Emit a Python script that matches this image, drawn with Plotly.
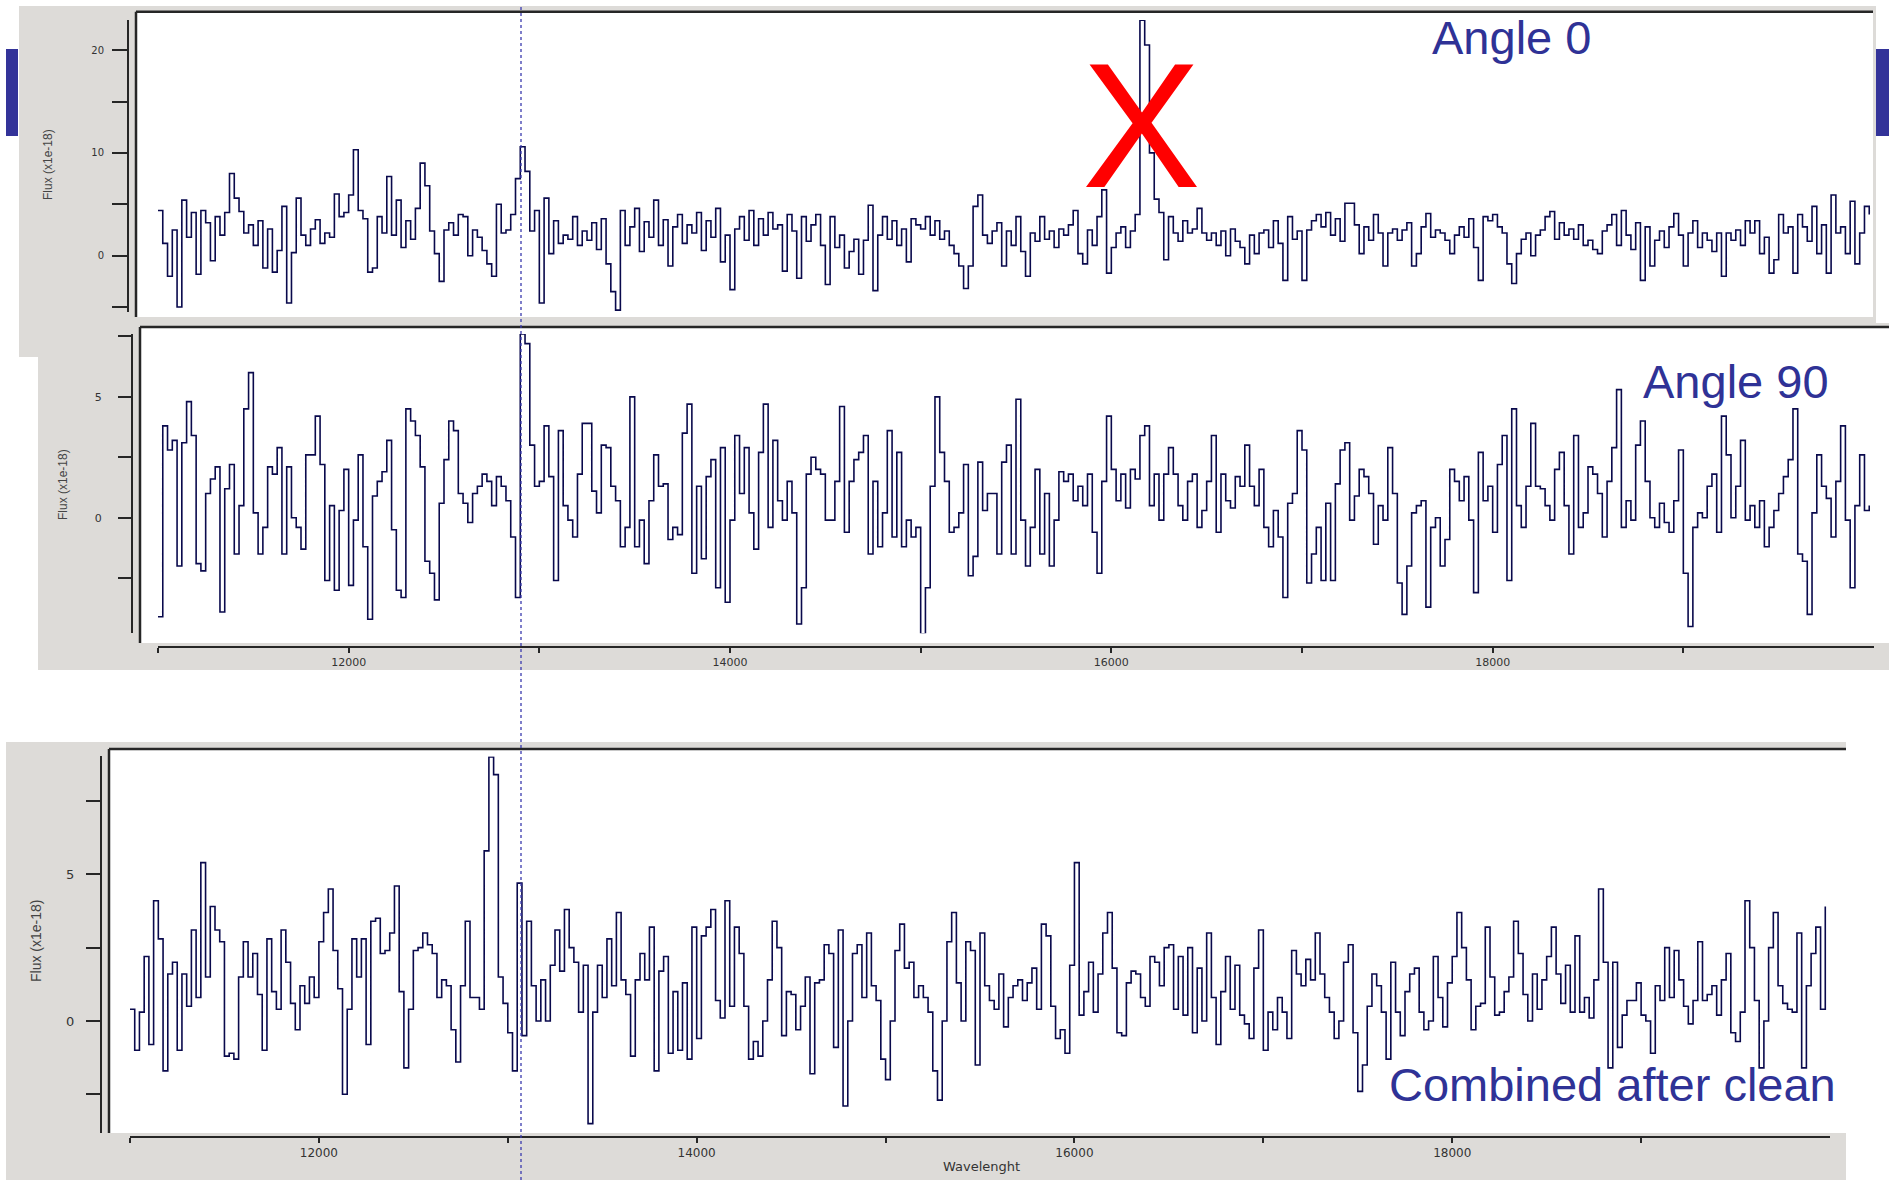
import plotly.graph_objects as go

W, H = 1889, 1180


def fx(x):
    return x / W


def fy(y):
    return 1 - y / H


# ---------------- data ----------------
wave_start = 11000
wave_step = 25

flux_angle0 = [
    4.4, 1.2, -2.0, 2.5, -5.0, 5.4, 1.8, 4.2, -1.8, 4.4,
    3.2, -0.5, 3.8, 2.0, 4.2, 8.0, 5.6, 4.3, 2.2, 3.0,
    1.0, 3.4, -1.2, 2.6, -1.6, 0.5, 4.8, -4.6, 0.3, 5.6,
    2.0, 1.0, 2.6, 3.5, 1.2, 2.2, 1.8, 6.0, 3.8, 4.2,
    5.9, 10.3, 4.4, 3.6, -1.6, -1.2, 3.8, 2.2, 7.7, 2.0,
    5.4, 0.8, 3.4, 1.6, 4.6, 9.0, 6.8, 2.4, 0.2, -2.5,
    2.5, 3.2, 2.0, 4.0, 3.8, 0.0, 2.5, 1.8, 0.5, -0.8,
    -2.0, 5.0, 2.2, 2.5, 4.0, 7.5, 10.6, 8.2, 2.4, 4.4,
    -4.6, 5.6, 0.2, 3.4, 1.2, 2.0, 1.6, 3.8, 1.0, 2.4,
    1.5, 3.2, 0.6, 3.6, -0.8, -3.5, -5.3, 4.4, 1.0, 2.8,
    4.6, 0.4, 3.3, 1.8, 5.4, 1.0, 3.5, -1.0, 2.8, 4.0,
    1.2, 3.0, 2.2, 4.2, 0.5, 3.4, 1.8, 4.6, -0.6, 2.0,
    -3.3, 2.6, 3.8, 1.5, 4.4, 1.0, 3.6, 2.0, 4.2, 2.6,
    3.0, -1.5, 4.0, 2.4, -2.2, 3.8, 1.4, 3.0, 4.0, 1.0,
    -2.8, 3.8, 0.8, 2.0, -1.2, 0.4, 1.6, -1.8, 1.5, 4.9,
    -3.4, 2.0, 3.8, 1.6, 3.4, 1.0, 2.6, -0.6, 3.6, 3.0,
    2.6, 3.8, 2.0, 3.4, 1.6, 2.4, 1.0, 0.2, -1.0, -3.2,
    -1.0, 4.8, 5.9, 2.0, 1.2, 2.4, 3.2, -1.0, 2.4, 1.0,
    3.8, 0.4, -2.0, 2.2, 1.4, 3.8, 1.6, 2.4, 0.8, 2.6,
    2.0, 3.0, 4.4, 0.2, -0.8, 2.5, 1.0, 3.8, 6.4, -1.7,
    0.8, 2.2, 2.8, 0.8, 2.4, 4.0, 22.9, 20.5, 10.0, 5.5,
    4.2, -0.4, 3.8, 2.2, 1.4, 3.4, 2.2, 2.6, 4.6, 2.2,
    1.5, 2.2, 1.0, 2.4, 0.0, 2.6, 1.4, 0.8, -0.8, 2.0,
    0.2, 2.2, 2.5, 0.8, 3.4, 1.2, -2.4, 3.8, 1.6, 2.4,
    -2.4, 2.5, 3.4, 4.0, 2.8, 4.2, 2.0, 3.6, 1.4, 5.1,
    5.1, 3.0, 0.2, 2.8, 1.5, 4.0, 2.2, -1.0, 2.2, 2.6,
    1.5, 2.5, 3.2, -1.0, 0.2, 2.8, 4.1, 1.8, 2.5, 2.2,
    1.5, 0.2, 2.0, 2.8, 1.8, 3.6, 0.8, -2.4, 3.8, 3.4,
    4.0, 2.8, 2.2, -0.8, -2.7, 0.2, 1.6, 2.2, 0.0, 2.0,
    2.5, 3.8, 4.3, 1.6, 3.2, 2.0, 2.6, 1.6, 3.0, 1.0,
    1.5, 0.6, 0.2, 2.4, 3.0, 4.0, 1.0, 4.4, 2.0, 0.6,
    3.2, -2.4, 2.8, -1.0, 1.5, 2.4, 0.8, 2.8, 4.1, 2.0,
    -1.0, 2.2, 3.4, 0.8, 2.2, 1.5, 0.4, 2.2, -2.0, 2.2,
    1.5, 2.5, 1.0, 3.4, 2.2, 3.4, 0.2, 1.8, -1.7, -0.4,
    4.0, 2.2, 2.8, -1.7, 4.0, 2.8, 1.4, 4.8, 0.2, 3.0,
    -1.7, 5.9, 2.2, 2.8, 0.2, 5.3, -0.8, 2.2, 4.8, 4.0,
]

flux_angle90 = [
    -4.1, 3.8, 2.8, 3.2, -2.0, 3.1, 4.8, 3.4, -1.9, -2.2,
    1.0, 1.6, 2.1, -3.9, 1.2, 2.2, -1.5, 0.5, 4.5, 6.0,
    0.2, -1.5, -0.4, 2.1, 1.8, 2.9, -1.5, 2.1, 0.0, -0.4,
    -1.3, 2.6, 2.6, 4.2, 2.2, -2.6, 0.5, -3.0, 0.3, 2.0,
    -2.8, -0.1, 2.6, -1.2, -4.2, 0.9, 1.5, 1.9, 3.2, -0.5,
    -3.0, -3.3, 4.5, 4.0, 3.4, 2.1, -1.8, -2.3, -3.4, 0.6,
    2.4, 4.0, 3.6, 1.0, 0.6, -0.2, 1.0, 1.3, 1.8, 1.5,
    0.5, 1.7, 1.3, 0.7, -0.8, -3.3, 7.6, 7.2, 3.0, 1.3,
    1.5, 3.8, 1.7, -2.6, 3.6, 0.5, -0.1, -0.8, 1.8, 3.9,
    3.9, 1.1, 0.2, 3.0, 2.9, 1.3, 0.7, -1.2, -0.4, 5.0,
    -1.2, -0.1, -1.9, 0.7, 2.6, 1.3, 1.4, -0.9, -0.4, -0.7,
    3.5, 4.7, -2.3, 1.3, -1.7, 1.7, 2.4, -2.9, 2.9, -3.5,
    -0.1, 3.4, 1.0, 2.9, 0.2, -1.3, 2.7, 4.7, -0.4, 3.2,
    0.7, -0.1, 1.5, 0.2, -4.4, -2.9, 1.8, 2.5, 2.0, 1.8,
    -0.1, -0.1, 1.5, 4.6, -0.6, 1.5, 2.4, 2.7, 3.4, -1.5,
    1.5, -1.2, 0.2, 3.6, -0.8, 2.7, -1.2, -0.1, -0.8, -0.4,
    -4.8, -2.9, 1.3, 5.0, 2.7, 1.5, -0.6, -0.4, 0.2, 2.2,
    -2.4, -1.6, 2.3, 0.3, 1.0, 1.0, -1.5, 2.3, 3.0, -1.5,
    4.9, -0.1, -2.0, -0.4, 2.0, -1.5, 1.0, -2.0, -0.1, 1.9,
    1.5, 1.8, 0.7, 1.3, 0.5, 1.8, -0.6, -2.3, 1.5, 4.2,
    2.0, 0.7, 1.8, 0.4, 2.0, 1.6, 3.4, 3.8, 0.5, 1.8,
    -0.1, 1.8, 2.9, 1.8, 0.5, -0.1, 1.5, 1.8, -0.4, 0.3,
    1.5, 3.4, -0.6, 1.8, 0.7, 0.4, 1.7, 1.3, 3.0, 1.3,
    0.5, 2.0, -0.4, -1.2, 0.3, -0.8, -3.3, 0.6, 1.0, 3.6,
    2.8, -2.7, -1.5, -0.4, -2.6, 0.6, -2.6, 1.4, 2.8, 3.1,
    -0.1, 0.9, 2.0, 1.7, 1.0, -1.1, 0.5, -0.1, 2.9, 1.0,
    -2.7, -4.0, -2.0, 0.2, 0.5, 0.7, -3.7, -0.4, 0.0, -2.0,
    -0.9, 2.0, 1.5, 0.7, 1.7, -0.1, -3.1, 2.7, 0.7, 1.3,
    -0.6, 2.2, 3.4, -2.6, 4.5, 0.5, -0.4, 1.3, 3.9, 1.3,
    1.2, 0.5, -0.1, 2.0, 2.7, 0.5, -1.5, 3.4, -0.4, 0.2,
    2.1, 1.8, 1.0, -0.8, 1.5, 2.9, 5.3, -0.4, 0.7, -0.1,
    3.0, 4.0, 1.5, 0.0, -0.4, 0.6, -0.2, -0.6, 0.7, 2.8,
    -2.3, -4.5, -0.4, 0.2, 0.0, 1.3, 1.8, -0.6, 4.2, 2.6,
    0.0, 1.3, 3.2, -0.1, 0.5, -0.4, 0.7, -1.2, -0.4, 0.3,
    1.0, 1.7, 2.4, 4.5, -1.5, -1.8, -4.0, 0.2, 2.6, 1.3,
    0.8, -0.8, 1.5, 3.8, -0.1, -2.9, 0.5, 2.6, 0.3, 0.5,
]

flux_combined = [
    0.4, -1.0, 0.3, 2.2, -0.8, 4.1, 2.8, -1.7, 1.6, 2.0,
    -1.0, 1.6, 0.5, 3.1, 0.8, 5.4, 1.5, 3.9, 3.1, 2.7,
    -1.2, -1.1, -1.3, 1.5, 2.7, 1.5, 2.3, 0.9, -1.0, 2.8,
    1.0, 0.4, 3.1, 2.0, 0.6, -0.3, 1.2, 0.6, 1.5, 0.8,
    2.7, 3.7, 4.5, 2.4, 1.1, -2.5, 0.4, 2.8, 1.5, 2.8,
    -0.8, 3.4, 3.5, 2.3, 2.4, 3.0, 4.6, 1.0, -1.6, 0.4,
    2.4, 2.5, 3.0, 2.6, 2.3, 0.8, 1.4, 1.2, -0.3, -1.4,
    1.2, 3.4, 0.8, 0.8, 0.4, 5.8, 9.0, 8.4, 1.5, 0.6,
    -0.4, -1.7, 4.7, -0.5, 3.4, 1.2, 0.0, 1.4, 0.0, 1.9,
    3.1, 1.7, 3.8, 2.5, 2.0, 0.3, 1.9, -3.5, 0.3, 1.9,
    0.8, 2.8, 1.2, 3.7, 1.4, 0.9, -1.2, 1.4, 2.3, 1.4,
    3.2, -1.7, 1.7, 2.2, -1.1, 1.0, -1.0, 1.3, -1.3, 3.2,
    -0.6, 2.9, 3.2, 3.8, 0.7, 0.1, 4.1, 0.5, 3.2, 2.3,
    0.5, -1.3, -0.7, -1.2, 0.0, 1.4, 3.4, 2.5, -0.5, 1.0,
    0.9, -0.3, 0.5, 1.5, -1.8, 1.3, 1.4, 2.6, 2.3, -0.9,
    3.1, -2.9, 0.0, 2.3, 2.6, 0.8, 3.0, 1.2, 0.7, -1.3,
    -2.0, 0.0, 2.4, 3.3, 1.8, 2.0, 0.8, 1.2, 0.8, 0.3,
    -1.7, -2.7, 0.0, 2.7, 3.7, 1.3, 0.0, 2.7, 2.4, -1.5,
    3.0, 1.2, 0.7, 0.4, 1.6, -0.2, 0.8, 1.2, 1.4, 0.7,
    1.3, 1.8, 0.4, 3.3, 2.9, 0.5, -0.6, -0.3, -1.1, 1.9,
    5.4, 0.2, 1.0, 2.0, 0.3, 1.6, 3.0, 3.7, 1.8, -0.4,
    -0.5, 1.3, 1.7, 1.6, 0.8, 0.5, 2.2, 2.0, 1.2, 2.5,
    2.6, 0.4, 2.2, 0.2, 2.5, -0.4, 1.8, 0.0, 3.0, 0.8,
    -0.8, 1.0, 2.2, 0.4, 1.9, 0.2, -0.1, -0.6, 1.8, 3.1,
    -1.0, 0.3, -0.3, 0.8, 0.3, -0.6, 2.4, 1.6, 1.2, 2.1,
    1.4, 3.0, 1.6, 0.8, 0.3, -0.6, 0.0, 2.0, 2.6, -0.4,
    -2.4, -1.5, 0.5, 1.6, 1.2, 0.3, -1.3, 2.0, 0.3, -0.5,
    1.0, 1.6, 1.8, 0.3, -0.3, 0.0, 2.2, 0.8, -0.2, 1.3,
    2.2, 3.7, 2.5, 1.4, -0.3, 0.5, 0.6, 3.2, 1.5, 0.2,
    0.3, 1.0, 1.5, 3.4, 2.3, 0.9, 0.0, 1.6, 0.4, 1.4,
    2.2, 3.2, 1.6, 0.6, 1.9, 0.3, 2.9, 0.3, 0.8, 0.1,
    1.4, 4.5, 2.0, -1.6, 2.0, -0.9, 0.2, 0.7, 0.7, 1.3,
    0.2, 0.0, -1.1, 1.2, 0.7, 2.5, 0.8, 2.4, 1.4, 0.5,
    -0.1, 0.7, 2.7, 0.7, 0.9, 1.2, 0.2, 1.4, 2.3, -0.4,
    -0.7, 0.3, 4.1, 2.5, 0.7, -1.6, 0.0, 2.5, 3.7, 1.2,
    0.6, 0.4, 0.3, 3.0, -1.6, 1.2, 2.3, 3.2, 0.4, 3.9,
]

x_tick_values = [11000, 12000, 13000, 14000, 15000, 16000, 17000, 18000, 19000]
x_tick_labels = ["", "12000", "", "14000", "", "16000", "", "18000", ""]
y_ticks_angle0 = [-5, 0, 5, 10, 15, 20]
y_labels_angle0 = ["", "0", "", "10", "", "20"]
y_ticks_small = [-2.5, 0, 2.5, 5, 7.5]
y_labels_small = ["", "0", "", "5", ""]

panel_titles = ["Angle 0", "Angle 90", "Combined after clean"]
y_title = "Flux (x1e-18)"
x_title = "Wavelenght"


def waves(n):
    return [wave_start + wave_step * i for i in range(n)]


# ---------------- figure ----------------
LINE = "#09094c"
AX = "#262626"
GRAY = "#dddbd8"
TXT_BLUE = "#2f3296"

fig = go.Figure()
for flux, xa, ya in [(flux_angle0, "x", "y"), (flux_angle90, "x2", "y2"),
                     (flux_combined, "x3", "y3")]:
    fig.add_trace(go.Scatter(
        x=waves(len(flux)), y=flux, xaxis=xa, yaxis=ya, mode="lines",
        line=dict(color=LINE, width=1.6, shape="hv"),
        hoverinfo="skip", showlegend=False))

tick_font = dict(family="DejaVu Sans", size=11, color="#333333")
tick_font3 = dict(family="DejaVu Sans", size=12, color="#333333")


def yaxis(domain_px, rng, pos_px, tv, tt, ticklen, standoff, font):
    return dict(domain=[fy(domain_px[0]), fy(domain_px[1])], range=rng,
                anchor="free", position=fx(pos_px), showline=True,
                linecolor=AX, linewidth=2, ticks="outside", ticklen=ticklen,
                tickwidth=1.5, tickcolor=AX, tickvals=tv, ticktext=tt,
                tickfont=font, showgrid=False, zeroline=False,
                ticklabelstandoff=standoff, fixedrange=True)


def xaxis(domain_px, pos_px, font, visible=True):
    return dict(domain=[fx(domain_px[0]), fx(domain_px[1])], range=[11000, 20000],
                anchor="free", position=fy(pos_px), showline=True,
                linecolor=AX, linewidth=1.5, ticks="outside", ticklen=5,
                tickwidth=1.5, tickcolor=AX, tickvals=x_tick_values,
                ticktext=x_tick_labels, tickfont=font, showgrid=False,
                zeroline=False, visible=visible, fixedrange=True)


fig.update_layout(
    width=W, height=H, margin=dict(l=0, r=0, t=0, b=0),
    paper_bgcolor="white", plot_bgcolor="rgba(0,0,0,0)",
    xaxis=xaxis((158, 1874), 320, tick_font, visible=False),
    yaxis=yaxis((312.0, 20.0), [-5.48, 22.93], 128, y_ticks_angle0,
                y_labels_angle0, 15, 6, dict(family="DejaVu Sans", size=10, color="#333")),
    xaxis2=xaxis((158, 1874), 647, tick_font),
    yaxis2=yaxis((633.2, 334.0), [-4.78, 7.6], 132, y_ticks_small,
                 y_labels_small, 13, 14, tick_font),
    xaxis3=xaxis((130, 1830), 1137, tick_font3),
    yaxis3=yaxis((1133.3, 756.4), [-3.83, 9.02], 101, y_ticks_small,
                 y_labels_small, 14, 9, dict(family="DejaVu Sans", size=13, color="#333")),
)


def rect(x0, y0, x1, y1, color, layer="below"):
    return dict(type="rect", xref="paper", yref="paper", x0=fx(x0), x1=fx(x1),
                y0=fy(y1), y1=fy(y0), fillcolor=color, line=dict(width=0),
                layer=layer)


def seg(x0, y0, x1, y1, color=AX, width=2.5, dash="solid", layer="below"):
    return dict(type="line", xref="paper", yref="paper", x0=fx(x0), x1=fx(x1),
                y0=fy(y0), y1=fy(y1), line=dict(color=color, width=width, dash=dash),
                layer=layer)


shapes = [
    rect(19, 6, 1876, 357, GRAY),
    rect(136, 11.7, 1873, 317, "white"),
    rect(38, 323, 1889, 670, GRAY),
    rect(140, 327, 1889, 643, "white"),
    rect(6, 742, 1846, 1180, GRAY),
    rect(109, 749, 1846, 1133, "white"),
    seg(136, 11.7, 1873, 11.7), seg(136, 11.7, 136, 317),
    seg(140, 327, 1889, 327), seg(140, 327, 140, 643),
    seg(109, 749, 1846, 749), seg(109, 749, 109, 1133),
    rect(6, 49, 18, 136, "#333399", "above"),
    rect(1876, 49, 1889, 136, "#333399", "above"),
    seg(521, 7, 521, 1180, color="#3a3aae", width=1.3, dash="dot", layer="above"),
]
fig.update_layout(shapes=shapes)


def ann(text, x, y, size, color, angle=0, family="Liberation Sans"):
    return dict(text=text, x=fx(x), y=fy(y), xref="paper", yref="paper",
                showarrow=False, xanchor="center", yanchor="middle",
                textangle=angle, font=dict(family=family, size=size, color=color))


annotations = [
    ann(panel_titles[0], 1511, 37, 47, TXT_BLUE),
    ann(panel_titles[1], 1736, 381, 47, TXT_BLUE),
    ann(panel_titles[2], 1612, 1084, 47, TXT_BLUE),
    ann("X", 1141, 126, 178, "#ff0000"),
    ann(y_title, 48, 165, 12, "#444444", angle=-90),
    ann(y_title, 63, 485, 12, "#444444", angle=-90),
    ann(y_title, 36, 941, 14, "#444444", angle=-90),
    ann(x_title, 982, 1166, 13, "#333333", family="DejaVu Sans"),
]
fig.update_layout(annotations=annotations)

fig.write_html("out.html")
